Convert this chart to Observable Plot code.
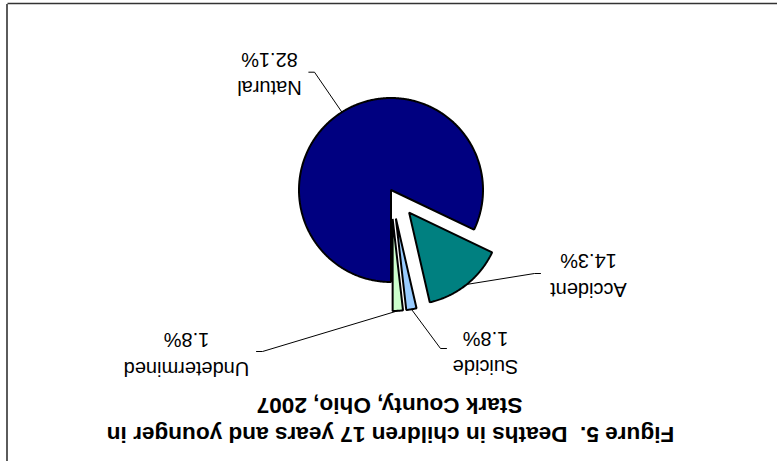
<!DOCTYPE html>
<html><head><meta charset="utf-8">
<script src="https://cdn.jsdelivr.net/npm/d3@7"></script>
<script src="https://cdn.jsdelivr.net/npm/@observablehq/plot@0.6"></script>
<style>
html,body{margin:0;padding:0;background:#fff;}
#chart{width:777px;height:461px;overflow:hidden;}
#chart svg{display:block;transform:rotate(180deg);}
#chart svg text{white-space:pre;}
</style></head><body><div id="chart"></div>
<script>
// ---- data ----
const categories = ["Natural", "Accident", "Suicide", "Undetermined"];
const percents = [82.1, 14.3, 1.8, 1.8];
const percentLabels = ["82.1%", "14.3%", "1.8%", "1.8%"];
const sliceColors = ["#000080", "#008080", "#99CCFF", "#CCFFCC"];
const titleLines = ["Figure 5.  Deaths in children 17 years and younger in", "Stark County, Ohio, 2007"];

// ---- layout (unrotated frame; whole chart is shown rotated 180°) ----
const W = 777, H = 461;
const pie = {cx: 385.5, cy: 270.5, r: 92};
const explode = [0, 29, 29, 29];
const labelPos = [[507, 379.5], [188, 178], [291, 100.5], [590, 99]];
const labelGap = 28.5;
const leaderElbow = [[462, 388.3, 467.7], [242, 187, 236], [336, 112, 330], [514, 109, 520]];
const titlePos = [[386, 34], [387, 63]];

const total = d3.sum(percents);
const rad = Math.PI / 180;
const slicePts = [], leaderPts = [], labelRows = [];
let acc = 0;
categories.forEach((name, i) => {
  const a0 = acc / total * 360, a1 = (acc + percents[i]) / total * 360;
  acc += percents[i];
  const mid = (a0 + a1) / 2;
  const ox = pie.cx + explode[i] * Math.sin(mid * rad);
  const oy = pie.cy - explode[i] * Math.cos(mid * rad);
  const pt = a => ({x: ox + pie.r * Math.sin(a * rad), y: oy - pie.r * Math.cos(a * rad)});
  slicePts.push({name, x: ox, y: oy});
  const n = Math.max(2, Math.ceil((a1 - a0) / 0.5));
  for (let k = 0; k <= n; k++) slicePts.push({name, ...pt(a0 + (a1 - a0) * k / n)});
  const m = pt(mid);
  const [ex, ey, ex2] = leaderElbow[i];
  leaderPts.push({name, x: m.x, y: m.y}, {name, x: ex, y: ey}, {name, x: ex2, y: ey});
  labelRows.push({x: labelPos[i][0], y: labelPos[i][1], text: name});
  labelRows.push({x: labelPos[i][0], y: labelPos[i][1] + labelGap, text: percentLabels[i]});
});
const titleRows = titleLines.map((t, i) => ({x: titlePos[i][0], y: titlePos[i][1], text: t}));

const chart = Plot.plot({
  width: W, height: H, margin: 0,
  x: {domain: [0, W], range: [0, W], axis: null},
  y: {domain: [0, H], range: [0, H], axis: null},
  color: {domain: categories, range: sliceColors},
  style: {fontFamily: "'Liberation Sans', Arial, sans-serif", background: "#fff", color: "#000"},
  marks: [
    Plot.ruleY([457], {x1: 0, x2: 769.5, stroke: "#333", strokeWidth: 1.6}),
    Plot.ruleX([769.5], {y1: 0, y2: 457, stroke: "#333", strokeWidth: 1.6}),
    Plot.line(leaderPts, {x: "x", y: "y", z: "name", stroke: "#000", strokeWidth: 1}),
    Plot.line(slicePts, {x: "x", y: "y", z: "name", fill: "name", stroke: "#000", strokeWidth: 2, curve: "linear-closed", strokeLinejoin: "miter"}),
    Plot.text(labelRows, {x: "x", y: "y", text: "text", fontSize: 20, lineAnchor: "bottom", textAnchor: "middle", fill: "#000"}),
    Plot.text(titleRows, {x: "x", y: "y", text: "text", fontSize: 22.6, fontWeight: "bold", lineAnchor: "bottom", textAnchor: "middle", fill: "#000"})
  ]
});
document.getElementById("chart").appendChild(chart);
</script></body></html>
